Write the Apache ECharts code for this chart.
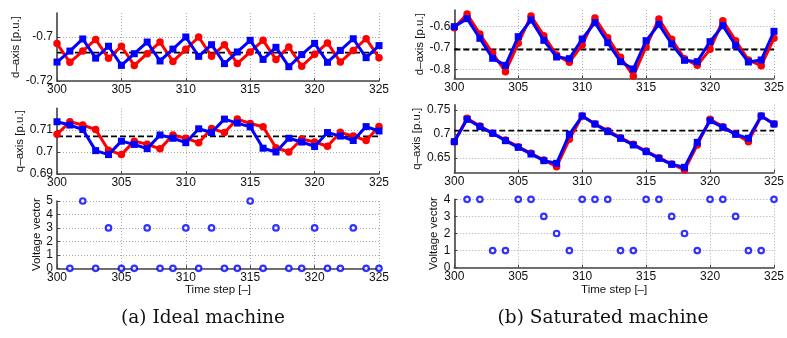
<!DOCTYPE html>
<html><head><meta charset="utf-8">
<script src="https://cdn.jsdelivr.net/npm/echarts@6/dist/echarts.min.js"></script>
<style>html,body{margin:0;padding:0;background:#fff}#c{width:787px;height:338px}</style>
</head><body><div id="c"></div>
<script>
// ---- data ----
var steps = [300,301,302,303,304,305,306,307,308,309,310,311,312,313,314,315,316,317,318,319,320,321,322,323,324,325];
var vSteps = [301,302,303,304,305,306,307,308,309,310,311,312,313,314,315,316,317,318,319,320,321,322,323,324,325];

// (a) Ideal machine
var idealD_red  = [-0.7030,-0.7115,-0.7064,-0.7011,-0.7097,-0.7042,-0.7129,-0.7076,-0.7023,-0.7111,-0.7056,-0.7000,-0.7088,-0.7035,-0.7121,-0.7068,-0.7015,-0.7102,-0.7045,-0.7133,-0.7079,-0.7027,-0.7114,-0.7061,-0.7008,-0.7094];
var idealD_blue = [-0.7114,-0.7064,-0.7009,-0.7096,-0.7042,-0.7129,-0.7076,-0.7023,-0.7109,-0.7055,-0.7000,-0.7088,-0.7035,-0.7121,-0.7068,-0.7015,-0.7102,-0.7047,-0.7135,-0.7080,-0.7029,-0.7115,-0.7061,-0.7008,-0.7094,-0.7039];
var idealQ_red  = [0.7080,0.7137,0.7122,0.7102,0.7008,0.6988,0.7049,0.7035,0.7014,0.7077,0.7062,0.7042,0.7106,0.7088,0.7149,0.7129,0.7114,0.7019,0.7000,0.7059,0.7045,0.7026,0.7089,0.7072,0.7052,0.7115];
var idealQ_blue = [0.7137,0.7122,0.7102,0.7006,0.6988,0.7049,0.7034,0.7015,0.7077,0.7062,0.7042,0.7105,0.7088,0.7149,0.7131,0.7114,0.7017,0.7000,0.7062,0.7045,0.7025,0.7088,0.7072,0.7052,0.7115,0.7095];
var idealV      = [0,5,0,3,0,0,3,0,0,3,0,3,0,0,5,0,3,0,0,3,0,0,3,0,0];

// (b) Saturated machine
var satD_red  = [-0.6050,-0.5406,-0.6344,-0.7250,-0.8109,-0.6781,-0.5500,-0.6422,-0.7328,-0.7672,-0.6859,-0.5594,-0.6516,-0.7438,-0.8313,-0.6938,-0.5641,-0.6594,-0.7500,-0.7813,-0.7063,-0.5719,-0.6656,-0.7563,-0.7828,-0.6547];
var satD_blue = [-0.6000,-0.5625,-0.6547,-0.7484,-0.7813,-0.6469,-0.5688,-0.6641,-0.7422,-0.7500,-0.6578,-0.5813,-0.6750,-0.7641,-0.7984,-0.6656,-0.5891,-0.6813,-0.7578,-0.7641,-0.6703,-0.5953,-0.6875,-0.7656,-0.7563,-0.6219];
var satQ_red  = [0.6840,0.7326,0.7167,0.7014,0.6875,0.6736,0.6597,0.6458,0.6319,0.6889,0.7375,0.7208,0.7069,0.6924,0.6785,0.6646,0.6507,0.6375,0.6250,0.6771,0.7306,0.7153,0.7000,0.6840,0.7375,0.7208];
var satQ_blue = [0.6840,0.7306,0.7153,0.7014,0.6861,0.6722,0.6583,0.6444,0.6389,0.6993,0.7375,0.7208,0.7049,0.6910,0.6771,0.6632,0.6493,0.6368,0.6306,0.6826,0.7278,0.7139,0.6993,0.6910,0.7375,0.7208];
var satV      = [4,4,1,1,4,4,3,2,1,4,4,4,1,1,4,4,3,2,1,4,4,3,1,1,4];

var dRef = -0.7071, qRef = 0.7071;
var idealDTicks = [-0.72,-0.7];
var idealQTicks = [0.69,0.7,0.71];
var satDTicks = [-0.8,-0.7,-0.6];
var satQTicks = [0.65,0.7,0.75];

var captionA = '(a) Ideal machine';
var captionB = '(b) Saturated machine';

// ---- layout ----
var FONT = 'Liberation Sans';
var grids = [
  {left:57, width:322, top:13, height:68},
  {left:57, width:322, top:108.3, height:65.7},
  {left:57, width:322, top:201, height:67.3},
  {left:454.3, width:327.7, top:10, height:68.3},
  {left:454.3, width:327.7, top:104.7, height:68},
  {left:454.3, width:327.7, top:199.3, height:68.4}
];
function fmt(v){ return String(parseFloat(v.toFixed(3))); }
var axisLineStyle = {color:'#444', width:1.6};
var splitStyle = {show:true, lineStyle:{color:'#aaa', type:[1,2], width:1}};
function xAx(i, named){
  return {type:'value', gridIndex:i, min:300, max:325, interval:5,
    axisLine:{onZero:false, lineStyle:axisLineStyle},
    axisTick:{inside:true, length:3, lineStyle:{color:'#444'}},
    axisLabel:{color:'#111', fontFamily:FONT, fontSize:12, margin:3, showMinLabel:true, showMaxLabel:true},
    splitLine:splitStyle,
    name: named ? 'Time step [–]' : '', nameLocation:'middle', nameGap:15,
    nameTextStyle:{color:'#111', fontFamily:FONT, fontSize:11.5}};
}
function yAx(i, name, gap, extra){
  var a = {type:'value', gridIndex:i,
    axisLine:{show:true, onZero:false, lineStyle:axisLineStyle},
    axisTick:{show:true, inside:true, length:3, lineStyle:{color:'#444'}},
    axisLabel:{color:'#111', fontFamily:FONT, fontSize:12, margin:4, formatter:fmt},
    splitLine:splitStyle,
    name:name, nameLocation:'middle', nameGap:gap, nameRotate:90,
    nameTextStyle:{color:'#111', fontFamily:FONT, fontSize:11.5}};
  for (var k in extra){
    if (k==='axisLabel' || k==='axisTick'){ for (var kk in extra[k]) a[k][kk]=extra[k][kk]; }
    else a[k]=extra[k];
  }
  return a;
}
var xAxes = [xAx(0,false), xAx(1,false), xAx(2,true), xAx(3,false), xAx(4,false), xAx(5,true)];
var yAxes = [
  yAx(0,'d–axis [p.u.]',33,{min:-0.72, max:-0.6891, axisLabel:{customValues:idealDTicks}, axisTick:{customValues:idealDTicks}}),
  yAx(1,'q–axis [p.u.]',23.5,{min:0.69, max:0.7198, axisLabel:{customValues:idealQTicks}, axisTick:{customValues:idealQTicks}}),
  yAx(2,'Voltage vector',9,{min:0, max:5, interval:1}),
  yAx(3,'d–axis [p.u.]',24.5,{min:-0.842, max:-0.522, axisLabel:{customValues:satDTicks}, axisTick:{customValues:satDTicks}}),
  yAx(4,'q–axis [p.u.]',24,{min:0.6194, max:0.761, axisLabel:{customValues:satQTicks}, axisTick:{customValues:satQTicks}}),
  yAx(5,'Voltage vector',9,{min:0, max:4, interval:1})
];

function pairs(xs, ys){ return xs.map(function(x,i){ return [x, ys[i]]; }); }
function refSeries(i, v){
  return {type:'line', xAxisIndex:i, yAxisIndex:i, data:[[300,v],[325,v]], symbol:'none', silent:true,
    lineStyle:{color:'#000', width:1.8, type:[6,3]}, z:2};
}
function redSeries(i, ys){
  return {type:'line', xAxisIndex:i, yAxisIndex:i, data:pairs(steps, ys), symbol:'circle', symbolSize:7.5,
    showAllSymbol:true, clip:true,
    lineStyle:{color:'#ff0000', width:3}, itemStyle:{color:'#ff0000'}, z:3};
}
function blueSeries(i, ys){
  return {type:'line', xAxisIndex:i, yAxisIndex:i, data:pairs(steps, ys), symbol:'rect', symbolSize:7,
    showAllSymbol:true, clip:true,
    lineStyle:{color:'#0000ff', width:3}, itemStyle:{color:'#0000ff'}, z:4};
}
function vSeries(i, ys){
  return {type:'scatter', xAxisIndex:i, yAxisIndex:i, data:pairs(vSteps, ys), symbol:'circle', symbolSize:5.5,
    clip:false, itemStyle:{color:'#fff', borderColor:'#0000ff', borderWidth:2.2}, z:4};
}

var series = [
  refSeries(0, dRef), redSeries(0, idealD_red), blueSeries(0, idealD_blue),
  refSeries(1, qRef), redSeries(1, idealQ_red), blueSeries(1, idealQ_blue),
  vSeries(2, idealV),
  refSeries(3, dRef), redSeries(3, satD_red), blueSeries(3, satD_blue),
  refSeries(4, qRef), redSeries(4, satQ_red), blueSeries(4, satQ_blue),
  vSeries(5, satV)
];

var chart = echarts.init(document.getElementById('c'), null, {renderer:'canvas'});
chart.setOption({
  animation:false,
  backgroundColor:'#fff',
  grid:grids,
  xAxis:xAxes,
  yAxis:yAxes,
  series:series,
  graphic:[
    {type:'text', x:203, y:318, style:{text:captionA, font:'18.5px "DejaVu Serif"', fill:'#111', textAlign:'center', textVerticalAlign:'middle'}},
    {type:'text', x:603, y:318, style:{text:captionB, font:'18.5px "DejaVu Serif"', fill:'#111', textAlign:'center', textVerticalAlign:'middle'}}
  ]
});
</script>
</body></html>
